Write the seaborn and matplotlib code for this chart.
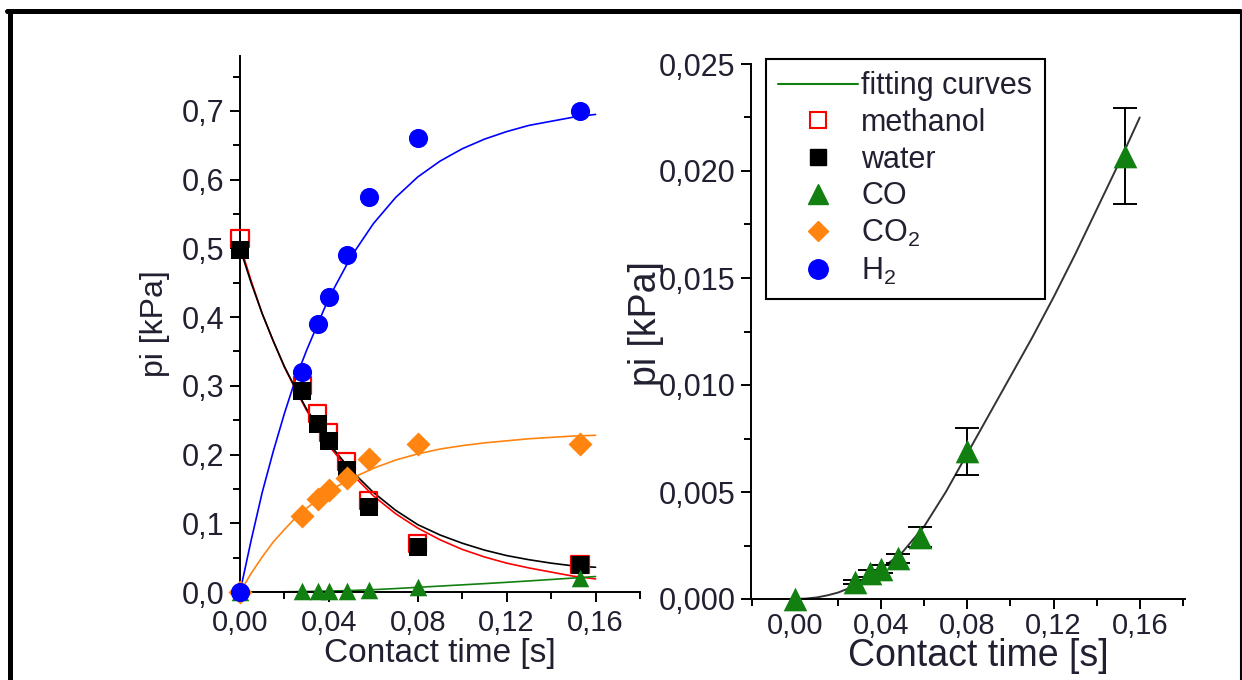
import numpy as np
import pandas as pd
import matplotlib
matplotlib.use("Agg")
import matplotlib.pyplot as plt
import seaborn as sns
from matplotlib.lines import Line2D
from matplotlib.ticker import MultipleLocator

# measured points (contact time in s, partial pressure in kPa)
t_meas = [0.0, 0.028, 0.035, 0.040, 0.048, 0.058, 0.080, 0.153]
methanol = [0.515, 0.300, 0.260, 0.232, 0.190, 0.133, 0.070, 0.040]
water = [0.497, 0.292, 0.245, 0.220, 0.178, 0.123, 0.066, 0.040]
co = [0.0, 0.0008, 0.0012, 0.0014, 0.0019, 0.0029, 0.0069, 0.0207]
co_err = [0.0, 0.0001, 0.00015, 0.0002, 0.0002, 0.00045, 0.0011, 0.00225]
co2 = [0.0, 0.110, 0.135, 0.148, 0.166, 0.193, 0.216, 0.215]
h2 = [0.0, 0.320, 0.390, 0.430, 0.490, 0.575, 0.660, 0.700]

# fitting curves
t_fit = [0.000, 0.005, 0.010, 0.015, 0.020, 0.025, 0.030, 0.040, 0.050, 0.060,
         0.070, 0.080, 0.090, 0.100, 0.110, 0.120, 0.130, 0.140, 0.150, 0.160]
fit_methanol = [0.505, 0.453, 0.405, 0.365, 0.327, 0.295, 0.264, 0.213, 0.173, 0.140,
                0.114, 0.093, 0.076, 0.062, 0.051, 0.042, 0.035, 0.029, 0.023, 0.019]
fit_water = [0.500, 0.450, 0.405, 0.365, 0.328, 0.296, 0.266, 0.216, 0.177, 0.145,
             0.119, 0.098, 0.083, 0.071, 0.061, 0.053, 0.047, 0.042, 0.038, 0.036]
fit_co = [0.0, 0.00002, 0.00007, 0.00017, 0.0003, 0.0005, 0.0008, 0.0014, 0.0022, 0.0034,
          0.0050, 0.0068, 0.0086, 0.0104, 0.0122, 0.0141, 0.0161, 0.0182, 0.0203, 0.0225]
fit_co2 = [0.0, 0.027, 0.051, 0.073, 0.091, 0.108, 0.122, 0.147, 0.165, 0.180,
           0.192, 0.201, 0.208, 0.213, 0.217, 0.220, 0.223, 0.225, 0.227, 0.228]
fit_h2 = [0.0, 0.075, 0.145, 0.205, 0.260, 0.310, 0.352, 0.428, 0.488, 0.536,
          0.574, 0.604, 0.627, 0.645, 0.659, 0.670, 0.679, 0.685, 0.691, 0.695]

# tick labels (comma decimals)
left_xticks = [0.0, 0.04, 0.08, 0.12, 0.16]
left_xlabels = ["0,00", "0,04", "0,08", "0,12", "0,16"]
left_yticks = [0.0, 0.1, 0.2, 0.3, 0.4, 0.5, 0.6, 0.7]
left_ylabels = ["0,0", "0,1", "0,2", "0,3", "0,4", "0,5", "0,6", "0,7"]
right_yticks = [0.0, 0.005, 0.010, 0.015, 0.020, 0.025]
right_ylabels = ["0,000", "0,005", "0,010", "0,015", "0,020", "0,025"]

RED = "#FF0000"
BLACK = "#000000"
GREEN = "#118011"
ORANGE = "#FF8410"
BLUE = "#0000FF"
TXT = "#202030"

sns.set_theme(style="ticks")
plt.rcParams["font.family"] = ["Liberation Sans", "DejaVu Sans"]
plt.rcParams["mathtext.fontset"] = "custom"
plt.rcParams["mathtext.rm"] = "Liberation Sans"

fig = plt.figure(figsize=(12.42, 6.8), dpi=100)
ax1 = fig.add_axes([240 / 1242, 88 / 680, 400 / 1242, 536 / 680])
ax2 = fig.add_axes([751 / 1242, 81 / 680, 434 / 1242, 535 / 680])

# ---- left panel ----
for ys, c in [(fit_methanol, RED), (fit_water, BLACK), (fit_co2, ORANGE),
              (fit_h2, BLUE), (fit_co, GREEN)]:
    sns.lineplot(x=t_fit, y=ys, ax=ax1, color=c, lw=1.2, sort=False,
                 estimator=None, legend=False)

sns.scatterplot(x=t_meas, y=methanol, ax=ax1, marker="s", s=150,
                facecolor="none", edgecolor=RED, linewidth=1.6, clip_on=False, zorder=3)
sns.scatterplot(x=t_meas, y=water, ax=ax1, marker="s", s=150,
                color=BLACK, edgecolor=BLACK, linewidth=0, clip_on=False, zorder=4)
sns.scatterplot(x=t_meas, y=co, ax=ax1, marker="^", s=160,
                color=GREEN, edgecolor=GREEN, linewidth=0, clip_on=False, zorder=5)
sns.scatterplot(x=t_meas, y=co2, ax=ax1, marker="D", s=150,
                color=ORANGE, edgecolor=ORANGE, linewidth=0, clip_on=False, zorder=5)
sns.scatterplot(x=t_meas, y=h2, ax=ax1, marker="o", s=190,
                color=BLUE, edgecolor=BLUE, linewidth=0, clip_on=False, zorder=6)

ax1.set_xlim(0, 0.18)
ax1.set_ylim(0, 0.78)
ax1.set_xticks(left_xticks)
ax1.set_xticklabels(left_xlabels)
ax1.set_yticks(left_yticks)
ax1.set_yticklabels(left_ylabels)
ax1.xaxis.set_minor_locator(MultipleLocator(0.02))
ax1.yaxis.set_minor_locator(MultipleLocator(0.05))
ax1.set_xlabel("Contact time [s]", fontsize=24, color=TXT)
ax1.set_ylabel("pi [kPa]", fontsize=23, color=TXT)
ax1.xaxis.set_label_coords(0.5, -0.086)
ax1.yaxis.set_label_coords(-0.175, 0.5)

# ---- right panel ----
sns.lineplot(x=t_fit, y=fit_co, ax=ax2, color="#333333", lw=1.4, sort=False,
             estimator=None, legend=False)
ax2.errorbar(t_meas, co, yerr=co_err, fmt="none", ecolor=BLACK, elinewidth=1.4,
             capsize=8.6, capthick=1.4, zorder=3)
sns.scatterplot(x=t_meas, y=co, ax=ax2, marker="^", s=290,
                color=GREEN, edgecolor=GREEN, linewidth=0, clip_on=False, zorder=4)

ax2.set_xlim(-0.0204, 0.181)
ax2.set_ylim(0, 0.025)
ax2.set_xticks(left_xticks)
ax2.set_xticklabels(left_xlabels)
ax2.set_yticks(right_yticks)
ax2.set_yticklabels(right_ylabels)
ax2.xaxis.set_minor_locator(MultipleLocator(0.02))
ax2.yaxis.set_minor_locator(MultipleLocator(0.0025))
ax2.set_xlabel("Contact time [s]", fontsize=27, color=TXT)
ax2.set_ylabel("pi [kPa]", fontsize=27, color=TXT)
ax2.xaxis.set_label_coords(0.523, -0.073)
ax2.yaxis.set_label_coords(-0.2, 0.515)

for ax in (ax1, ax2):
    sns.despine(ax=ax)
    for sp in ("left", "bottom"):
        ax.spines[sp].set_linewidth(1.4)
        ax.spines[sp].set_color(BLACK)
    ax.tick_params(which="major", direction="out", length=7, width=1.4,
                   labelsize=22, labelcolor=TXT, color=BLACK, pad=4)
    ax.tick_params(which="minor", direction="out", length=5, width=1.4, color=BLACK)
    ax.set_facecolor("white")
ax1.tick_params(axis="x", which="major", labelsize=21, pad=5)
ax2.tick_params(axis="x", which="major", labelsize=21, pad=2)

# legend
handles = [
    Line2D([], [], color=GREEN, lw=1.5),
    Line2D([], [], ls="none", marker="s", ms=11, mfc="none", mec=RED, mew=1.5),
    Line2D([], [], ls="none", marker="s", ms=11, mfc=BLACK, mec=BLACK),
    Line2D([], [], ls="none", marker="^", ms=15, mfc=GREEN, mec=GREEN),
    Line2D([], [], ls="none", marker="D", ms=10, mfc=ORANGE, mec=ORANGE),
    Line2D([], [], ls="none", marker="o", ms=14, mfc=BLUE, mec=BLUE),
]
labels = ["fitting curves", "methanol", "water", "CO",
          r"CO$_\mathregular{2}$", r"H$_\mathregular{2}$"]
leg = fig.legend(handles, labels, loc="upper left",
                 bbox_to_anchor=(766 / 1242, 1 - 59 / 680), bbox_transform=fig.transFigure,
                 fontsize=22, frameon=True, fancybox=False, framealpha=1,
                 edgecolor=BLACK, borderpad=0.4, labelspacing=0.22,
                 handlelength=2.6, handletextpad=0.12, borderaxespad=0)
leg.get_frame().set_linewidth(1.5)
for txt in leg.get_texts():
    txt.set_color(TXT)

# outer frame of the picture
fig.add_artist(Line2D([9.5 / 1242, 9.5 / 1242], [0, 1 - 11 / 680],
                      transform=fig.transFigure, color=BLACK, lw=3.6))
fig.add_artist(Line2D([7 / 1242, 1240 / 1242], [1 - 11 / 680, 1 - 11 / 680],
                      transform=fig.transFigure, color=BLACK, lw=3.6))
fig.add_artist(Line2D([1240.5 / 1242, 1240.5 / 1242], [0, 1 - 11 / 680],
                      transform=fig.transFigure, color=BLACK, lw=1.5))

fig.savefig("out.png", dpi=100)
